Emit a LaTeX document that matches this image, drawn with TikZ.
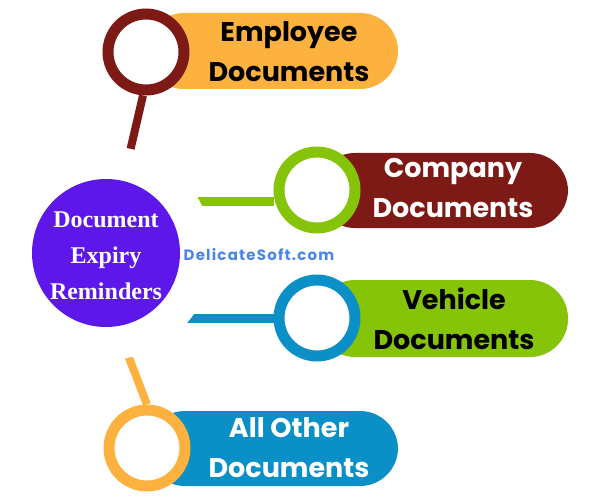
\documentclass[tikz,border=0pt]{standalone}
\usepackage{fontspec}
\setmainfont{Liberation Serif}
\newfontfamily\pillfont{Poppins}[BoldFont={* Bold}]
\newfontfamily\webfont{Poppins}[BoldFont={* Bold},LetterSpace=8]
\definecolor{cOrange}{HTML}{FDB240}
\definecolor{cRed}{HTML}{7E1A16}
\definecolor{cGreen}{HTML}{86C40A}
\definecolor{cBlue}{HTML}{0A8FC6}
\definecolor{cPurple}{HTML}{5E17EB}
\definecolor{cWeb}{HTML}{4A86E8}
\begin{document}
\begin{tikzpicture}[x=1pt,y=-1pt,
  pill/.style={rounded corners=38pt},
  ring/.style={circle,draw,fill=white,line width=11pt,minimum size=76pt,inner sep=0pt},
  stick/.style={line width=8pt},
  ptext/.style={font=\pillfont\bfseries\fontsize{27}{40}\selectfont,align=center},
]
\useasboundingbox (0,0) rectangle (600,500);
% pills
\fill[cOrange,pill] (146,13) rectangle (398,89);
\fill[cRed,pill] (317,153) rectangle (568,228);
\fill[cGreen,pill] (317,280) rectangle (568,357);
\fill[cBlue,pill] (147,411) rectangle (398,486);
% rings
\node[ring,draw=cRed] (r1) at (146,52) {};
\node[ring,draw=cGreen] (r2) at (317,190) {};
\node[ring,draw=cBlue] (r3) at (317,318) {};
\node[ring,draw=cOrange] (r4) at (147,448) {};
% hub
\coordinate (h) at (106,253);
\coordinate (e1) at (128,160);
\coordinate (e2) at (180,201);
\coordinate (e3) at (180,318);
\coordinate (e4) at (126,350);
\draw[stick,cRed] (r1.south) ++(-3,0) -- (e1);
\draw[line width=9pt,cGreen] (e2) -- (r2.west |- e2);
\draw[line width=9pt,cBlue] (e3) -- (r3.west);
\draw[stick,cOrange] (e4) -- (r4.north);
\fill[white] (h) circle (107);
\node[circle,fill=cPurple,minimum size=148pt,inner sep=0pt] (hub) at (h) {};
\node[text=white,align=center,font=\bfseries\fontsize{24}{36}\selectfont] at ([yshift=-3pt]hub.center) {Document\\Expiry\\Reminders};
% texts
\node[ptext,text=black] (t1) at (289,52) {Employee\\Documents};
\node[ptext,text=white] (t2) at (453,188) {Company\\Documents};
\node[ptext,text=black] (t3) at (454,319) {Vehicle\\Documents};
\node[ptext,text=white] (t4) at (289,448) {All Other\\Documents};
\node[text=cWeb,font=\webfont\bfseries\fontsize{15}{17}\selectfont] (web) at (259,255) {DelicateSoft.com};
\end{tikzpicture}
\end{document}
